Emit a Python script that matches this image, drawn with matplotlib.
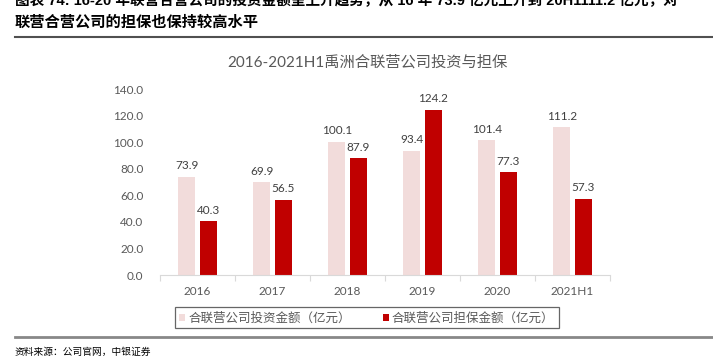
import matplotlib
matplotlib.use("Agg")
import matplotlib.pyplot as plt
from matplotlib.lines import Line2D
import numpy as np

categories = ["2016", "2017", "2018", "2019", "2020", "2021H1"]
investment = [73.9, 69.9, 100.1, 93.4, 101.4, 111.2]
guarantee = [40.3, 56.5, 87.9, 124.2, 77.3, 57.3]
yticks = [0, 20, 40, 60, 80, 100, 120, 140]
series_names = ["合联营公司投资金额（亿元）", "合联营公司担保金额（亿元）"]
title = "2016-2021H1禹洲合联营公司投资与担保"
header1 = "图表 74: 16-20 年联营合营公司的投资金额呈上升趋势，从 16 年 73.9 亿元上升到 20H1111.2 亿元，对"
header2 = "联营合营公司的担保也保持较高水平"
source = "资料来源：公司官网，中银证券"

plt.rcParams['font.family'] = ['Lato', 'Noto Sans CJK SC', 'DejaVu Sans']

W, H = 713, 363
fig = plt.figure(figsize=(W / 100, H / 100), dpi=100)
ax = fig.add_axes([160 / W, 1 - 275 / H, 450 / W, 186 / H])

x = np.arange(len(categories))
bw = 0.227
off = 0.142
light = "#F2DCDB"
red = "#C00000"
b1 = ax.bar(x - off, investment, bw, color=light, label=series_names[0])
b2 = ax.bar(x + off, guarantee, bw, color=red, label=series_names[1])

for bars, vals in ((b1, investment), (b2, guarantee)):
    for r, v in zip(bars, vals):
        ax.annotate(f"{v:.1f}", (r.get_x() + r.get_width() / 2, v),
                    xytext=(0, 4), textcoords="offset points",
                    ha="center", va="bottom", fontsize=8.5, color="#404040")

ax.set_xlim(-0.5, len(categories) - 0.5)
ax.set_ylim(0, 140)
ax.set_yticks(yticks)
ax.set_yticklabels([f"{t:.1f}" for t in yticks], fontsize=8.5, color="#595959")
ax.set_xticks(x)
ax.set_xticklabels(categories, fontsize=8.5, color="#595959")
ax.set_xticks(np.arange(-0.5, len(categories)), minor=True)
ax.tick_params(axis="x", which="major", length=0, pad=8)
ax.tick_params(axis="x", which="minor", length=4, color="#d9d9d9", width=0.8)
ax.tick_params(axis="y", length=0, pad=12)
for s in ("top", "right", "left"):
    ax.spines[s].set_visible(False)
ax.spines["bottom"].set_color("#d9d9d9")
ax.spines["bottom"].set_linewidth(0.8)

fig.text(367 / W, 1 - 62 / H, title, ha="center", va="center", fontsize=11, color="#595959")

leg = fig.legend(handles=[b1, b2], loc="center", bbox_to_anchor=(367 / W, 1 - 317.5 / H),
                 ncol=2, fontsize=9, frameon=True, fancybox=False,
                 handlelength=0.45, handleheight=0.45, handletextpad=0.25,
                 columnspacing=2.6, borderpad=0.35, labelcolor="#595959")
leg.get_frame().set_edgecolor("#404040")
leg.get_frame().set_linewidth(0.9)

fig.text(15 / W, 1 - 1 / H, header1, ha="left", va="center", fontsize=10.5,
         fontweight="bold", color="#000000", family=['Liberation Sans', 'Noto Sans CJK SC'])
fig.text(15 / W, 1 - 22 / H, header2, ha="left", va="center", fontsize=11,
         fontweight="bold", color="#000000", family=['Noto Sans CJK SC'])
fig.add_artist(Line2D([15 / W, 1], [1 - 37 / H, 1 - 37 / H], color="#505050", lw=1.5))
fig.add_artist(Line2D([15 / W, 1], [1 - 337 / H, 1 - 337 / H], color="#888888", lw=2))
fig.text(15 / W, 1 - 352 / H, source, ha="left", va="center", fontsize=7,
         color="#000000", family=['Noto Sans CJK SC'])

fig.savefig("out.png", dpi=100)
